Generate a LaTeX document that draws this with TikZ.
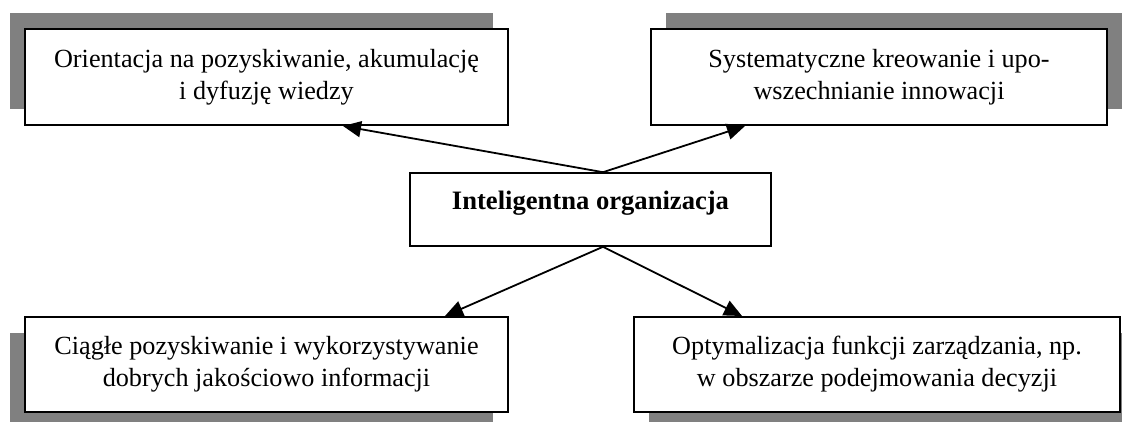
\documentclass[tikz,border=0pt]{standalone}
\usepackage{fontspec}
\setmainfont{Liberation Serif}
\usetikzlibrary{arrows.meta, positioning, calc}
\tikzset{
    % Box of a feature (rectangle)
    featurebox/.style={rectangle, draw=black, fill=white, line width=1pt,
        align=center, font=\fontsize{13.1}{16}\selectfont, inner sep=0pt},
    % Central box
    corebox/.style={rectangle, draw=black, fill=white, line width=0.8pt,
        align=center, font=\fontsize{13.3}{16}\selectfont\bfseries, inner sep=0pt,
        text depth=9pt},
    % Gray shadow behind a box
    boxshadow/.style={fill=black!50},
    % Connection arrow
    featurearrow/.style={-{Triangle[length=9pt, width=8pt]}, line width=0.9pt, black},
}
\begin{document}
\begin{tikzpicture}[x=0.5pt, y=-0.5pt]
    \useasboundingbox (0,0) rectangle (1122,422);
    % shadows
    \fill[boxshadow] (10,13) rectangle (493,109);
    \fill[boxshadow] (666,13) rectangle (1122,109);
    \fill[boxshadow] (10,333) rectangle (493,422);
    \fill[boxshadow] (649,333) rectangle (1122,422);
    % boxes
    \node[featurebox, minimum width=241.5pt, minimum height=48pt] (tl) at (266.5,77)
        {Orientacja na pozyskiwanie, akumulację\\i dyfuzję wiedzy};
    \node[featurebox, minimum width=228pt, minimum height=48pt] (tr) at (879,77)
        {Systematyczne kreowanie i upo-\\wszechnianie innowacji};
    \node[corebox, minimum width=180.5pt, minimum height=36.5pt] (org) at (590.5,209.5)
        {Inteligentna organizacja};
    \node[featurebox, minimum width=241.5pt, minimum height=47.5pt] (bl) at (266.5,364.5)
        {Ciągłe pozyskiwanie i wykorzystywanie\\dobrych jakościowo informacji};
    \node[featurebox, minimum width=243pt, minimum height=47.5pt] (br) at (877,364.5)
        {Optymalizacja funkcji zarządzania, np.\\w obszarze podejmowania decyzji};
    % arrows
    \draw[featurearrow] ($(org.north)+(12.5,0)$) -- ($(tl.south)+(76.5,0)$);
    \draw[featurearrow] ($(org.north)+(12.5,0)$) -- ($(tr.south)+(-134,0)$);
    \draw[featurearrow] ($(org.south)+(12.5,0)$) -- ($(bl.north)+(178.5,0)$);
    \draw[featurearrow] ($(org.south)+(12.5,0)$) -- ($(br.north)+(-135,0)$);
\end{tikzpicture}
\end{document}
